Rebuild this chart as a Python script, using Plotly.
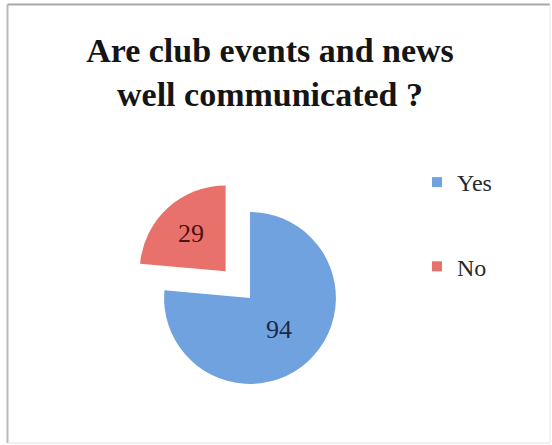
import plotly.graph_objects as go

# Survey answers
labels = ["Yes", "No"]
counts = [94, 29]
pulls = [0, 0.42]
slice_colors = ["#71a2e0", "#e9716b"]
label_colors = ["#1c2a48", "#4d1212"]

title_text = "Are club events and news<br>well communicated ?"

W, H = 552, 445

fig = go.Figure()

fig.add_trace(go.Pie(
    labels=labels,
    values=counts,
    pull=pulls,
    sort=False,
    direction="clockwise",
    rotation=0,
    textinfo="value",
    textposition="inside",
    insidetextorientation="horizontal",
    textfont=dict(family="Liberation Serif", size=26, color=label_colors),
    marker=dict(colors=slice_colors, line=dict(width=0)),
    domain=dict(x=[128 / W, 372 / W], y=[1 - 420 / H, 1 - 176 / H]),
    showlegend=False,
    hoverinfo="label+value",
))

# Legend entries, one group per answer so the entries can be spaced apart
for lab, col in zip(labels, slice_colors):
    fig.add_trace(go.Scatter(
        x=[None], y=[None],
        mode="markers",
        name=lab,
        legendgroup=lab,
        marker=dict(symbol="square", size=10, color=col),
        showlegend=True,
    ))

# Frame around the chart
frame = [
    dict(x0=7.5, y0=4.5, x1=550, y1=4.5, color="#a8a8a8", width=2),
    dict(x0=7.5, y0=4.5, x1=7.5, y1=443, color="#b8b8b8", width=2),
    dict(x0=7.5, y0=443, x1=550, y1=443, color="#e2e2e2", width=1),
    dict(x0=550, y0=4.5, x1=550, y1=443, color="#e8e8e8", width=1),
]
for f in frame:
    fig.add_shape(
        type="line", xref="paper", yref="paper",
        x0=f["x0"] / W, x1=f["x1"] / W,
        y0=1 - f["y0"] / H, y1=1 - f["y1"] / H,
        line=dict(color=f["color"], width=f["width"]),
    )

fig.update_layout(
    width=W, height=H,
    margin=dict(l=0, r=0, t=0, b=0),
    paper_bgcolor="white",
    plot_bgcolor="white",
    xaxis=dict(visible=False),
    yaxis=dict(visible=False),
    title=dict(
        text=title_text,
        x=270 / W, xanchor="center",
        y=1 - 62 / H, yanchor="top",
        font=dict(family="Liberation Serif", size=34, color="#151515", weight=700),
    ),
    legend=dict(
        x=417 / W, xanchor="left",
        y=1 - 160 / H, yanchor="top",
        font=dict(family="Liberation Serif", size=24, color="#2a2a2a"),
        tracegroupgap=50,
        itemwidth=30,
        bgcolor="rgba(0,0,0,0)",
    ),
)

fig.write_html("out.html")
